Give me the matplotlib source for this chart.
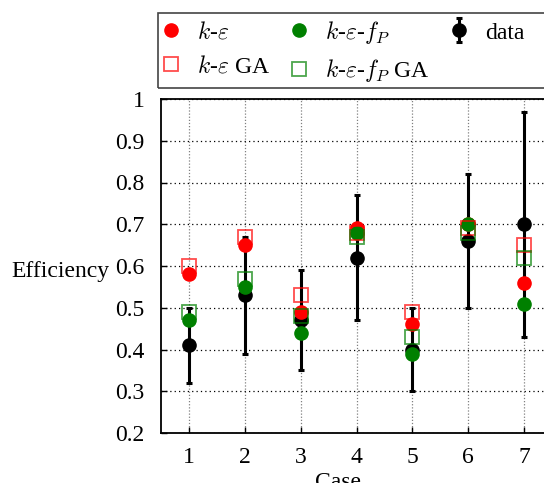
import matplotlib
matplotlib.use('Agg')
import matplotlib.pyplot as plt
from matplotlib.patches import Rectangle

plt.rcParams['font.family'] = ['Liberation Serif', 'DejaVu Serif']
plt.rcParams['mathtext.fontset'] = 'cm'
plt.rcParams['font.size'] = 17

cases = [1, 2, 3, 4, 5, 6, 7]

# measured efficiency with lower/upper bounds
data = [0.41, 0.53, 0.47, 0.62, 0.40, 0.66, 0.70]
data_lo = [0.32, 0.39, 0.35, 0.47, 0.30, 0.50, 0.43]
data_hi = [0.50, 0.67, 0.59, 0.77, 0.50, 0.82, 0.97]

# model predictions
ke = [0.58, 0.65, 0.49, 0.69, 0.46, 0.70, 0.56]
ke_ga = [0.60, 0.67, 0.53, 0.68, 0.49, 0.69, 0.65]
kefp = [0.47, 0.55, 0.44, 0.68, 0.39, 0.70, 0.51]
kefp_ga = [0.49, 0.57, 0.48, 0.67, 0.43, 0.68, 0.62]

yticks = [0.2, 0.3, 0.4, 0.5, 0.6, 0.7, 0.8, 0.9, 1.0]
ytick_labels = ['0.2', '0.3', '0.4', '0.5', '0.6', '0.7', '0.8', '0.9', '1']

W, H = 544, 483
fig = plt.figure(figsize=(W / 100, H / 100), dpi=100)
ax = fig.add_axes([161 / W, 50 / H, 391 / W, 334 / H])

yerr = [[d - lo for d, lo in zip(data, data_lo)],
        [hi - d for d, hi in zip(data, data_hi)]]
h_data = ax.errorbar(cases, data, yerr=yerr, fmt='o', color='black', ms=9.5,
                     elinewidth=2.2, capsize=2.5, capthick=2.2, zorder=3)
h_ke, = ax.plot(cases, ke, 'o', color='red', ms=9.5, ls='none', zorder=4)
h_kefp, = ax.plot(cases, kefp, 'o', color='green', ms=9.5, ls='none', zorder=4)
h_ke_ga, = ax.plot(cases, ke_ga, 's', mfc='none', mec='red', mew=1.3, ms=10.5,
                   alpha=0.7, ls='none', zorder=5)
h_kefp_ga, = ax.plot(cases, kefp_ga, 's', mfc='none', mec='green', mew=1.3,
                     ms=10.5, alpha=0.7, ls='none', zorder=5)

ax.set_xlim(0.5, 7.5)
ax.set_ylim(0.2, 1.0)
ax.set_xticks(cases)
ax.set_yticks(yticks)
ax.set_yticklabels(ytick_labels)
ax.tick_params(direction='in', length=4, width=1)
ax.tick_params(axis='y', pad=12)
ax.tick_params(axis='x', pad=10)

ax.yaxis.grid(True, color='black', lw=0.9, ls=(0, (1, 2.5)))
ax.xaxis.grid(True, color='gray', lw=0.9, ls=(0, (1, 1.5)))
ax.set_axisbelow(True)
for s in ax.spines.values():
    s.set_linewidth(1.3)

ax.set_xlabel('Case')
ax.xaxis.set_label_coords(0.453, -0.118)
ax.set_ylabel('Efficiency', rotation=0, ha='center', va='center')
ax.yaxis.set_label_coords(-0.258, 0.483)

# key box runs past the right edge of the figure
box = Rectangle((158 / W, 1 - 88 / H), 420 / W, 75 / H, transform=fig.transFigure,
                fill=False, edgecolor='#444444', lw=1.2)
fig.patches.append(box)

leg = fig.legend([h_ke, h_ke_ga, h_kefp, h_kefp_ga, h_data],
                 [r'$k$-$\varepsilon$', r'$k$-$\varepsilon$ GA',
                  r'$k$-$\varepsilon$-$f_P$', r'$k$-$\varepsilon$-$f_P$ GA', 'data'],
                 ncol=3, loc='upper left',
                 bbox_to_anchor=(158 / W, 1 - 15 / H),
                 bbox_transform=fig.transFigure, frameon=False,
                 borderaxespad=0, borderpad=0.15,
                 handlelength=0.8, handletextpad=0.7, labelspacing=0.5,
                 columnspacing=0.85)

fig.savefig('out.png', dpi=100)
